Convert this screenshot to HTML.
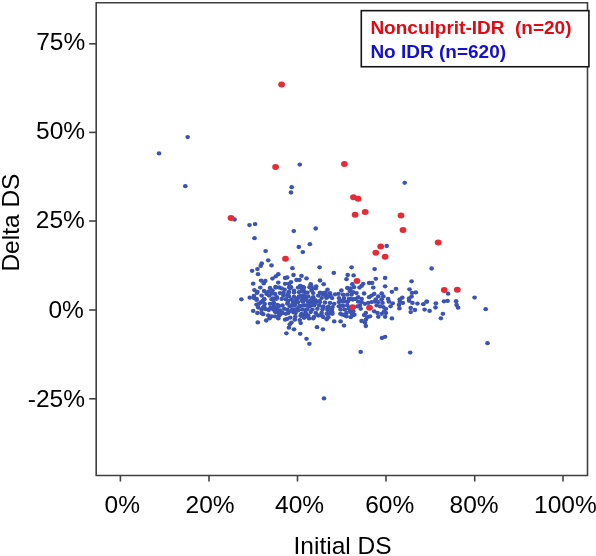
<!DOCTYPE html>
<html><head><meta charset="utf-8"><style>
html,body{margin:0;padding:0;background:#fff;overflow:hidden;}
svg{display:block;will-change:transform;}
.t{font-family:"Liberation Sans",sans-serif;font-size:24.5px;fill:#000;}
.lg{font-family:"Liberation Sans",sans-serif;font-size:19px;font-weight:bold;}
</style></head><body>
<svg width="596" height="556" viewBox="0 0 596 556">
<path d="M96.2 2.75H587.5V475.5H96.2Z" fill="none" stroke="#404040" stroke-width="1.6"/><line x1="89.2" y1="43.8" x2="96.2" y2="43.8" stroke="#404040" stroke-width="1.6"/><text x="85.2" y="49.8" text-anchor="end" class="t">75%</text><line x1="89.2" y1="132.4" x2="96.2" y2="132.4" stroke="#404040" stroke-width="1.6"/><text x="85.1" y="139.0" text-anchor="end" class="t">50%</text><line x1="89.2" y1="221.0" x2="96.2" y2="221.0" stroke="#404040" stroke-width="1.6"/><text x="84.8" y="228.3" text-anchor="end" class="t">25%</text><line x1="89.2" y1="310.0" x2="96.2" y2="310.0" stroke="#404040" stroke-width="1.6"/><text x="83.8" y="317.8" text-anchor="end" class="t">0%</text><line x1="89.2" y1="398.8" x2="96.2" y2="398.8" stroke="#404040" stroke-width="1.6"/><text x="85.0" y="407.0" text-anchor="end" class="t">-25%</text><line x1="120.4" y1="475.5" x2="120.4" y2="481.5" stroke="#404040" stroke-width="1.6"/><text x="104.6" y="512.8" class="t">0%</text><line x1="209.0" y1="475.5" x2="209.0" y2="481.5" stroke="#404040" stroke-width="1.6"/><text x="185.5" y="512.8" class="t">20%</text><line x1="297.5" y1="475.5" x2="297.5" y2="481.5" stroke="#404040" stroke-width="1.6"/><text x="275.1" y="512.8" class="t">40%</text><line x1="386.0" y1="475.5" x2="386.0" y2="481.5" stroke="#404040" stroke-width="1.6"/><text x="365.2" y="512.8" class="t">60%</text><line x1="474.7" y1="475.5" x2="474.7" y2="481.5" stroke="#404040" stroke-width="1.6"/><text x="449.5" y="512.8" class="t">80%</text><line x1="563.0" y1="475.5" x2="563.0" y2="481.5" stroke="#404040" stroke-width="1.6"/><text x="534.1" y="512.8" class="t">100%</text><text x="293.5" y="553.5" class="t">Initial DS</text><text transform="translate(18.5,271.6) rotate(-90)" class="t">Delta DS</text><g fill="#3b53b2"><ellipse cx="187.7" cy="137.1" rx="2.35" ry="2.15"/><ellipse cx="159.0" cy="153.4" rx="2.35" ry="2.15"/><ellipse cx="185.3" cy="186.2" rx="2.35" ry="2.15"/><ellipse cx="299.8" cy="164.6" rx="2.35" ry="2.15"/><ellipse cx="291.7" cy="187.2" rx="2.35" ry="2.15"/><ellipse cx="291.0" cy="192.5" rx="2.35" ry="2.15"/><ellipse cx="404.7" cy="182.8" rx="2.35" ry="2.15"/><ellipse cx="234.6" cy="219.5" rx="2.35" ry="2.15"/><ellipse cx="249.5" cy="225.1" rx="2.35" ry="2.15"/><ellipse cx="255.1" cy="224.1" rx="2.35" ry="2.15"/><ellipse cx="293.8" cy="231.1" rx="2.35" ry="2.15"/><ellipse cx="315.7" cy="228.5" rx="2.35" ry="2.15"/><ellipse cx="254.5" cy="238.2" rx="2.35" ry="2.15"/><ellipse cx="309.9" cy="244.2" rx="2.35" ry="2.15"/><ellipse cx="298.8" cy="247.0" rx="2.35" ry="2.15"/><ellipse cx="302.8" cy="252.1" rx="2.35" ry="2.15"/><ellipse cx="265.6" cy="251.1" rx="2.35" ry="2.15"/><ellipse cx="268.2" cy="260.3" rx="2.35" ry="2.15"/><ellipse cx="261.7" cy="263.4" rx="2.35" ry="2.15"/><ellipse cx="271.5" cy="265.4" rx="2.35" ry="2.15"/><ellipse cx="260.7" cy="265.9" rx="2.35" ry="2.15"/><ellipse cx="257.4" cy="269.1" rx="2.35" ry="2.15"/><ellipse cx="252.1" cy="270.8" rx="2.35" ry="2.15"/><ellipse cx="292.4" cy="268.2" rx="2.35" ry="2.15"/><ellipse cx="319.6" cy="267.3" rx="2.35" ry="2.15"/><ellipse cx="351.6" cy="267.3" rx="2.35" ry="2.15"/><ellipse cx="386.7" cy="246.0" rx="2.35" ry="2.15"/><ellipse cx="374.6" cy="269.1" rx="2.35" ry="2.15"/><ellipse cx="431.6" cy="268.5" rx="2.35" ry="2.15"/><ellipse cx="442.9" cy="313.8" rx="2.35" ry="2.15"/><ellipse cx="440.9" cy="318.3" rx="2.35" ry="2.15"/><ellipse cx="487.5" cy="343.2" rx="2.35" ry="2.15"/><ellipse cx="286.4" cy="333.3" rx="2.35" ry="2.15"/><ellipse cx="300.2" cy="333.8" rx="2.35" ry="2.15"/><ellipse cx="306.5" cy="338.8" rx="2.35" ry="2.15"/><ellipse cx="309.4" cy="343.8" rx="2.35" ry="2.15"/><ellipse cx="382.0" cy="338.0" rx="2.35" ry="2.15"/><ellipse cx="385.1" cy="336.8" rx="2.35" ry="2.15"/><ellipse cx="360.7" cy="351.9" rx="2.35" ry="2.15"/><ellipse cx="410.2" cy="352.6" rx="2.35" ry="2.15"/><ellipse cx="324.0" cy="398.4" rx="2.35" ry="2.15"/><ellipse cx="258.0" cy="274.2" rx="2.35" ry="2.15"/><ellipse cx="278.3" cy="274.2" rx="2.35" ry="2.15"/><ellipse cx="275.8" cy="276.3" rx="2.35" ry="2.15"/><ellipse cx="272.5" cy="278.6" rx="2.35" ry="2.15"/><ellipse cx="285.1" cy="278.0" rx="2.35" ry="2.15"/><ellipse cx="261.1" cy="280.6" rx="2.35" ry="2.15"/><ellipse cx="265.3" cy="280.9" rx="2.35" ry="2.15"/><ellipse cx="263.7" cy="283.4" rx="2.35" ry="2.15"/><ellipse cx="253.2" cy="283.7" rx="2.35" ry="2.15"/><ellipse cx="278.3" cy="282.6" rx="2.35" ry="2.15"/><ellipse cx="285.1" cy="283.8" rx="2.35" ry="2.15"/><ellipse cx="260.3" cy="287.6" rx="2.35" ry="2.15"/><ellipse cx="254.4" cy="290.1" rx="2.35" ry="2.15"/><ellipse cx="257.4" cy="291.8" rx="2.35" ry="2.15"/><ellipse cx="264.1" cy="291.0" rx="2.35" ry="2.15"/><ellipse cx="270.0" cy="288.0" rx="2.35" ry="2.15"/><ellipse cx="275.8" cy="287.6" rx="2.35" ry="2.15"/><ellipse cx="281.7" cy="288.4" rx="2.35" ry="2.15"/><ellipse cx="284.6" cy="289.7" rx="2.35" ry="2.15"/><ellipse cx="272.5" cy="290.5" rx="2.35" ry="2.15"/><ellipse cx="266.6" cy="293.9" rx="2.35" ry="2.15"/><ellipse cx="261.6" cy="295.6" rx="2.35" ry="2.15"/><ellipse cx="269.1" cy="295.6" rx="2.35" ry="2.15"/><ellipse cx="275.0" cy="293.9" rx="2.35" ry="2.15"/><ellipse cx="280.0" cy="293.1" rx="2.35" ry="2.15"/><ellipse cx="283.4" cy="295.6" rx="2.35" ry="2.15"/><ellipse cx="276.7" cy="297.2" rx="2.35" ry="2.15"/><ellipse cx="249.8" cy="297.7" rx="2.35" ry="2.15"/><ellipse cx="254.0" cy="298.1" rx="2.35" ry="2.15"/><ellipse cx="241.4" cy="299.3" rx="2.35" ry="2.15"/><ellipse cx="264.1" cy="298.9" rx="2.35" ry="2.15"/><ellipse cx="271.6" cy="299.3" rx="2.35" ry="2.15"/><ellipse cx="281.7" cy="298.9" rx="2.35" ry="2.15"/><ellipse cx="333.8" cy="272.9" rx="2.35" ry="2.15"/><ellipse cx="293.5" cy="275.0" rx="2.35" ry="2.15"/><ellipse cx="301.5" cy="275.9" rx="2.35" ry="2.15"/><ellipse cx="287.2" cy="277.5" rx="2.35" ry="2.15"/><ellipse cx="306.5" cy="278.4" rx="2.35" ry="2.15"/><ellipse cx="296.5" cy="280.0" rx="2.35" ry="2.15"/><ellipse cx="299.4" cy="280.0" rx="2.35" ry="2.15"/><ellipse cx="320.0" cy="280.5" rx="2.35" ry="2.15"/><ellipse cx="291.0" cy="282.1" rx="2.35" ry="2.15"/><ellipse cx="323.7" cy="284.2" rx="2.35" ry="2.15"/><ellipse cx="288.9" cy="283.8" rx="2.35" ry="2.15"/><ellipse cx="300.2" cy="285.9" rx="2.35" ry="2.15"/><ellipse cx="298.1" cy="287.6" rx="2.35" ry="2.15"/><ellipse cx="302.8" cy="286.8" rx="2.35" ry="2.15"/><ellipse cx="291.0" cy="287.2" rx="2.35" ry="2.15"/><ellipse cx="310.7" cy="284.2" rx="2.35" ry="2.15"/><ellipse cx="309.5" cy="287.2" rx="2.35" ry="2.15"/><ellipse cx="316.2" cy="286.3" rx="2.35" ry="2.15"/><ellipse cx="315.8" cy="288.4" rx="2.35" ry="2.15"/><ellipse cx="327.5" cy="289.7" rx="2.35" ry="2.15"/><ellipse cx="311.6" cy="290.5" rx="2.35" ry="2.15"/><ellipse cx="288.9" cy="291.8" rx="2.35" ry="2.15"/><ellipse cx="294.0" cy="292.6" rx="2.35" ry="2.15"/><ellipse cx="299.0" cy="292.2" rx="2.35" ry="2.15"/><ellipse cx="303.2" cy="291.4" rx="2.35" ry="2.15"/><ellipse cx="307.4" cy="292.6" rx="2.35" ry="2.15"/><ellipse cx="313.2" cy="293.1" rx="2.35" ry="2.15"/><ellipse cx="320.0" cy="292.6" rx="2.35" ry="2.15"/><ellipse cx="325.0" cy="292.6" rx="2.35" ry="2.15"/><ellipse cx="318.3" cy="295.6" rx="2.35" ry="2.15"/><ellipse cx="323.3" cy="294.7" rx="2.35" ry="2.15"/><ellipse cx="330.0" cy="293.1" rx="2.35" ry="2.15"/><ellipse cx="335.1" cy="294.3" rx="2.35" ry="2.15"/><ellipse cx="288.9" cy="296.4" rx="2.35" ry="2.15"/><ellipse cx="294.0" cy="296.8" rx="2.35" ry="2.15"/><ellipse cx="299.0" cy="296.4" rx="2.35" ry="2.15"/><ellipse cx="303.2" cy="295.6" rx="2.35" ry="2.15"/><ellipse cx="308.2" cy="296.4" rx="2.35" ry="2.15"/><ellipse cx="313.2" cy="297.2" rx="2.35" ry="2.15"/><ellipse cx="321.6" cy="298.1" rx="2.35" ry="2.15"/><ellipse cx="326.7" cy="297.2" rx="2.35" ry="2.15"/><ellipse cx="332.1" cy="298.1" rx="2.35" ry="2.15"/><ellipse cx="296.5" cy="299.3" rx="2.35" ry="2.15"/><ellipse cx="291.4" cy="299.3" rx="2.35" ry="2.15"/><ellipse cx="302.3" cy="299.3" rx="2.35" ry="2.15"/><ellipse cx="306.5" cy="299.8" rx="2.35" ry="2.15"/><ellipse cx="311.6" cy="299.3" rx="2.35" ry="2.15"/><ellipse cx="347.7" cy="275.0" rx="2.35" ry="2.15"/><ellipse cx="353.6" cy="275.4" rx="2.35" ry="2.15"/><ellipse cx="346.5" cy="279.2" rx="2.35" ry="2.15"/><ellipse cx="375.8" cy="278.8" rx="2.35" ry="2.15"/><ellipse cx="385.1" cy="278.0" rx="2.35" ry="2.15"/><ellipse cx="363.2" cy="283.8" rx="2.35" ry="2.15"/><ellipse cx="369.1" cy="283.0" rx="2.35" ry="2.15"/><ellipse cx="372.1" cy="283.0" rx="2.35" ry="2.15"/><ellipse cx="352.3" cy="284.2" rx="2.35" ry="2.15"/><ellipse cx="361.6" cy="285.9" rx="2.35" ry="2.15"/><ellipse cx="359.5" cy="287.6" rx="2.35" ry="2.15"/><ellipse cx="373.3" cy="287.6" rx="2.35" ry="2.15"/><ellipse cx="385.1" cy="286.3" rx="2.35" ry="2.15"/><ellipse cx="347.3" cy="288.0" rx="2.35" ry="2.15"/><ellipse cx="350.7" cy="288.4" rx="2.35" ry="2.15"/><ellipse cx="354.0" cy="287.2" rx="2.35" ry="2.15"/><ellipse cx="341.4" cy="290.5" rx="2.35" ry="2.15"/><ellipse cx="349.8" cy="291.0" rx="2.35" ry="2.15"/><ellipse cx="353.2" cy="292.2" rx="2.35" ry="2.15"/><ellipse cx="356.5" cy="293.1" rx="2.35" ry="2.15"/><ellipse cx="364.1" cy="293.5" rx="2.35" ry="2.15"/><ellipse cx="374.2" cy="293.9" rx="2.35" ry="2.15"/><ellipse cx="381.7" cy="293.5" rx="2.35" ry="2.15"/><ellipse cx="338.5" cy="293.9" rx="2.35" ry="2.15"/><ellipse cx="343.1" cy="294.7" rx="2.35" ry="2.15"/><ellipse cx="347.3" cy="294.7" rx="2.35" ry="2.15"/><ellipse cx="351.5" cy="294.7" rx="2.35" ry="2.15"/><ellipse cx="358.2" cy="297.2" rx="2.35" ry="2.15"/><ellipse cx="369.1" cy="297.2" rx="2.35" ry="2.15"/><ellipse cx="371.6" cy="295.6" rx="2.35" ry="2.15"/><ellipse cx="378.3" cy="296.4" rx="2.35" ry="2.15"/><ellipse cx="383.4" cy="296.4" rx="2.35" ry="2.15"/><ellipse cx="338.9" cy="298.1" rx="2.35" ry="2.15"/><ellipse cx="344.0" cy="298.1" rx="2.35" ry="2.15"/><ellipse cx="349.0" cy="298.9" rx="2.35" ry="2.15"/><ellipse cx="355.7" cy="298.9" rx="2.35" ry="2.15"/><ellipse cx="361.6" cy="298.9" rx="2.35" ry="2.15"/><ellipse cx="375.8" cy="299.3" rx="2.35" ry="2.15"/><ellipse cx="381.7" cy="299.3" rx="2.35" ry="2.15"/><ellipse cx="411.6" cy="281.3" rx="2.35" ry="2.15"/><ellipse cx="396.0" cy="288.9" rx="2.35" ry="2.15"/><ellipse cx="391.9" cy="291.8" rx="2.35" ry="2.15"/><ellipse cx="409.5" cy="289.3" rx="2.35" ry="2.15"/><ellipse cx="412.0" cy="292.9" rx="2.35" ry="2.15"/><ellipse cx="415.8" cy="292.4" rx="2.35" ry="2.15"/><ellipse cx="411.6" cy="296.6" rx="2.35" ry="2.15"/><ellipse cx="388.1" cy="298.9" rx="2.35" ry="2.15"/><ellipse cx="402.3" cy="297.7" rx="2.35" ry="2.15"/><ellipse cx="399.8" cy="299.3" rx="2.35" ry="2.15"/><ellipse cx="409.1" cy="298.5" rx="2.35" ry="2.15"/><ellipse cx="426.7" cy="301.6" rx="2.35" ry="2.15"/><ellipse cx="448.1" cy="293.7" rx="2.35" ry="2.15"/><ellipse cx="474.6" cy="297.6" rx="2.35" ry="2.15"/><ellipse cx="444.0" cy="301.3" rx="2.35" ry="2.15"/><ellipse cx="447.6" cy="300.9" rx="2.35" ry="2.15"/><ellipse cx="456.1" cy="301.2" rx="2.35" ry="2.15"/><ellipse cx="456.6" cy="305.0" rx="2.35" ry="2.15"/><ellipse cx="458.1" cy="307.7" rx="2.35" ry="2.15"/><ellipse cx="485.7" cy="309.2" rx="2.35" ry="2.15"/><ellipse cx="256.5" cy="304.6" rx="2.35" ry="2.15"/><ellipse cx="260.7" cy="302.5" rx="2.35" ry="2.15"/><ellipse cx="258.2" cy="307.5" rx="2.35" ry="2.15"/><ellipse cx="264.1" cy="306.7" rx="2.35" ry="2.15"/><ellipse cx="265.8" cy="309.2" rx="2.35" ry="2.15"/><ellipse cx="261.6" cy="309.6" rx="2.35" ry="2.15"/><ellipse cx="253.2" cy="310.9" rx="2.35" ry="2.15"/><ellipse cx="257.4" cy="313.0" rx="2.35" ry="2.15"/><ellipse cx="261.6" cy="313.0" rx="2.35" ry="2.15"/><ellipse cx="263.2" cy="314.2" rx="2.35" ry="2.15"/><ellipse cx="268.3" cy="315.5" rx="2.35" ry="2.15"/><ellipse cx="270.0" cy="303.8" rx="2.35" ry="2.15"/><ellipse cx="273.3" cy="303.3" rx="2.35" ry="2.15"/><ellipse cx="277.5" cy="305.0" rx="2.35" ry="2.15"/><ellipse cx="282.5" cy="305.4" rx="2.35" ry="2.15"/><ellipse cx="273.3" cy="309.6" rx="2.35" ry="2.15"/><ellipse cx="276.7" cy="308.8" rx="2.35" ry="2.15"/><ellipse cx="280.0" cy="310.5" rx="2.35" ry="2.15"/><ellipse cx="284.2" cy="308.8" rx="2.35" ry="2.15"/><ellipse cx="275.8" cy="312.1" rx="2.35" ry="2.15"/><ellipse cx="282.5" cy="313.0" rx="2.35" ry="2.15"/><ellipse cx="285.9" cy="313.8" rx="2.35" ry="2.15"/><ellipse cx="271.6" cy="316.3" rx="2.35" ry="2.15"/><ellipse cx="275.0" cy="316.3" rx="2.35" ry="2.15"/><ellipse cx="279.2" cy="315.5" rx="2.35" ry="2.15"/><ellipse cx="269.5" cy="318.4" rx="2.35" ry="2.15"/><ellipse cx="278.3" cy="318.4" rx="2.35" ry="2.15"/><ellipse cx="266.2" cy="320.5" rx="2.35" ry="2.15"/><ellipse cx="285.1" cy="319.7" rx="2.35" ry="2.15"/><ellipse cx="257.8" cy="322.4" rx="2.35" ry="2.15"/><ellipse cx="288.1" cy="302.1" rx="2.35" ry="2.15"/><ellipse cx="293.1" cy="301.7" rx="2.35" ry="2.15"/><ellipse cx="298.1" cy="302.1" rx="2.35" ry="2.15"/><ellipse cx="303.2" cy="301.7" rx="2.35" ry="2.15"/><ellipse cx="308.2" cy="302.1" rx="2.35" ry="2.15"/><ellipse cx="313.2" cy="302.5" rx="2.35" ry="2.15"/><ellipse cx="320.0" cy="302.1" rx="2.35" ry="2.15"/><ellipse cx="325.0" cy="302.5" rx="2.35" ry="2.15"/><ellipse cx="330.0" cy="302.9" rx="2.35" ry="2.15"/><ellipse cx="334.2" cy="303.8" rx="2.35" ry="2.15"/><ellipse cx="289.8" cy="306.3" rx="2.35" ry="2.15"/><ellipse cx="294.8" cy="305.4" rx="2.35" ry="2.15"/><ellipse cx="299.8" cy="305.9" rx="2.35" ry="2.15"/><ellipse cx="304.9" cy="305.4" rx="2.35" ry="2.15"/><ellipse cx="309.9" cy="306.3" rx="2.35" ry="2.15"/><ellipse cx="314.1" cy="305.4" rx="2.35" ry="2.15"/><ellipse cx="319.1" cy="305.4" rx="2.35" ry="2.15"/><ellipse cx="323.3" cy="306.3" rx="2.35" ry="2.15"/><ellipse cx="328.3" cy="306.7" rx="2.35" ry="2.15"/><ellipse cx="332.5" cy="307.1" rx="2.35" ry="2.15"/><ellipse cx="287.2" cy="309.6" rx="2.35" ry="2.15"/><ellipse cx="292.3" cy="309.6" rx="2.35" ry="2.15"/><ellipse cx="297.3" cy="308.8" rx="2.35" ry="2.15"/><ellipse cx="302.3" cy="309.6" rx="2.35" ry="2.15"/><ellipse cx="307.4" cy="309.2" rx="2.35" ry="2.15"/><ellipse cx="312.4" cy="309.6" rx="2.35" ry="2.15"/><ellipse cx="317.4" cy="308.8" rx="2.35" ry="2.15"/><ellipse cx="322.5" cy="309.6" rx="2.35" ry="2.15"/><ellipse cx="327.5" cy="310.0" rx="2.35" ry="2.15"/><ellipse cx="331.7" cy="309.2" rx="2.35" ry="2.15"/><ellipse cx="288.1" cy="313.0" rx="2.35" ry="2.15"/><ellipse cx="295.6" cy="313.0" rx="2.35" ry="2.15"/><ellipse cx="301.5" cy="313.8" rx="2.35" ry="2.15"/><ellipse cx="305.7" cy="313.0" rx="2.35" ry="2.15"/><ellipse cx="310.7" cy="312.1" rx="2.35" ry="2.15"/><ellipse cx="315.8" cy="313.0" rx="2.35" ry="2.15"/><ellipse cx="321.6" cy="313.0" rx="2.35" ry="2.15"/><ellipse cx="326.7" cy="313.8" rx="2.35" ry="2.15"/><ellipse cx="330.9" cy="313.0" rx="2.35" ry="2.15"/><ellipse cx="303.2" cy="316.3" rx="2.35" ry="2.15"/><ellipse cx="308.2" cy="315.5" rx="2.35" ry="2.15"/><ellipse cx="314.1" cy="316.8" rx="2.35" ry="2.15"/><ellipse cx="318.3" cy="315.5" rx="2.35" ry="2.15"/><ellipse cx="323.3" cy="317.2" rx="2.35" ry="2.15"/><ellipse cx="328.3" cy="317.2" rx="2.35" ry="2.15"/><ellipse cx="287.2" cy="318.9" rx="2.35" ry="2.15"/><ellipse cx="294.8" cy="319.7" rx="2.35" ry="2.15"/><ellipse cx="299.8" cy="320.1" rx="2.35" ry="2.15"/><ellipse cx="309.1" cy="318.4" rx="2.35" ry="2.15"/><ellipse cx="313.2" cy="318.4" rx="2.35" ry="2.15"/><ellipse cx="326.7" cy="319.3" rx="2.35" ry="2.15"/><ellipse cx="334.2" cy="321.4" rx="2.35" ry="2.15"/><ellipse cx="291.4" cy="322.6" rx="2.35" ry="2.15"/><ellipse cx="289.8" cy="324.3" rx="2.35" ry="2.15"/><ellipse cx="300.7" cy="323.1" rx="2.35" ry="2.15"/><ellipse cx="288.9" cy="327.7" rx="2.35" ry="2.15"/><ellipse cx="294.0" cy="329.3" rx="2.35" ry="2.15"/><ellipse cx="317.0" cy="327.2" rx="2.35" ry="2.15"/><ellipse cx="322.9" cy="329.3" rx="2.35" ry="2.15"/><ellipse cx="338.9" cy="302.1" rx="2.35" ry="2.15"/><ellipse cx="343.1" cy="301.7" rx="2.35" ry="2.15"/><ellipse cx="347.3" cy="302.1" rx="2.35" ry="2.15"/><ellipse cx="338.9" cy="306.3" rx="2.35" ry="2.15"/><ellipse cx="343.1" cy="305.9" rx="2.35" ry="2.15"/><ellipse cx="347.3" cy="305.4" rx="2.35" ry="2.15"/><ellipse cx="340.6" cy="309.6" rx="2.35" ry="2.15"/><ellipse cx="344.8" cy="309.6" rx="2.35" ry="2.15"/><ellipse cx="349.0" cy="308.8" rx="2.35" ry="2.15"/><ellipse cx="342.3" cy="314.7" rx="2.35" ry="2.15"/><ellipse cx="346.5" cy="313.0" rx="2.35" ry="2.15"/><ellipse cx="350.7" cy="312.1" rx="2.35" ry="2.15"/><ellipse cx="346.5" cy="316.3" rx="2.35" ry="2.15"/><ellipse cx="350.7" cy="317.2" rx="2.35" ry="2.15"/><ellipse cx="354.4" cy="314.7" rx="2.35" ry="2.15"/><ellipse cx="353.2" cy="311.3" rx="2.35" ry="2.15"/><ellipse cx="358.2" cy="301.7" rx="2.35" ry="2.15"/><ellipse cx="361.6" cy="302.1" rx="2.35" ry="2.15"/><ellipse cx="357.4" cy="306.3" rx="2.35" ry="2.15"/><ellipse cx="360.7" cy="308.8" rx="2.35" ry="2.15"/><ellipse cx="359.9" cy="305.4" rx="2.35" ry="2.15"/><ellipse cx="364.9" cy="303.8" rx="2.35" ry="2.15"/><ellipse cx="368.3" cy="302.9" rx="2.35" ry="2.15"/><ellipse cx="371.6" cy="302.1" rx="2.35" ry="2.15"/><ellipse cx="375.0" cy="301.7" rx="2.35" ry="2.15"/><ellipse cx="378.3" cy="302.1" rx="2.35" ry="2.15"/><ellipse cx="382.5" cy="302.9" rx="2.35" ry="2.15"/><ellipse cx="376.7" cy="305.4" rx="2.35" ry="2.15"/><ellipse cx="380.0" cy="306.3" rx="2.35" ry="2.15"/><ellipse cx="383.4" cy="307.1" rx="2.35" ry="2.15"/><ellipse cx="385.9" cy="308.8" rx="2.35" ry="2.15"/><ellipse cx="384.2" cy="311.3" rx="2.35" ry="2.15"/><ellipse cx="385.9" cy="313.0" rx="2.35" ry="2.15"/><ellipse cx="381.7" cy="313.8" rx="2.35" ry="2.15"/><ellipse cx="374.2" cy="311.3" rx="2.35" ry="2.15"/><ellipse cx="377.5" cy="313.0" rx="2.35" ry="2.15"/><ellipse cx="365.8" cy="313.0" rx="2.35" ry="2.15"/><ellipse cx="364.1" cy="315.1" rx="2.35" ry="2.15"/><ellipse cx="367.4" cy="317.2" rx="2.35" ry="2.15"/><ellipse cx="370.0" cy="316.3" rx="2.35" ry="2.15"/><ellipse cx="378.3" cy="316.8" rx="2.35" ry="2.15"/><ellipse cx="385.1" cy="316.8" rx="2.35" ry="2.15"/><ellipse cx="361.6" cy="321.0" rx="2.35" ry="2.15"/><ellipse cx="365.8" cy="319.7" rx="2.35" ry="2.15"/><ellipse cx="364.9" cy="322.6" rx="2.35" ry="2.15"/><ellipse cx="340.6" cy="321.4" rx="2.35" ry="2.15"/><ellipse cx="344.0" cy="325.6" rx="2.35" ry="2.15"/><ellipse cx="365.8" cy="326.0" rx="2.35" ry="2.15"/><ellipse cx="388.9" cy="301.7" rx="2.35" ry="2.15"/><ellipse cx="392.7" cy="303.3" rx="2.35" ry="2.15"/><ellipse cx="390.6" cy="306.3" rx="2.35" ry="2.15"/><ellipse cx="399.8" cy="301.7" rx="2.35" ry="2.15"/><ellipse cx="402.8" cy="302.9" rx="2.35" ry="2.15"/><ellipse cx="399.0" cy="305.0" rx="2.35" ry="2.15"/><ellipse cx="399.4" cy="308.4" rx="2.35" ry="2.15"/><ellipse cx="409.1" cy="300.8" rx="2.35" ry="2.15"/><ellipse cx="412.4" cy="302.9" rx="2.35" ry="2.15"/><ellipse cx="417.4" cy="303.6" rx="2.35" ry="2.15"/><ellipse cx="423.3" cy="304.2" rx="2.35" ry="2.15"/><ellipse cx="426.7" cy="301.7" rx="2.35" ry="2.15"/><ellipse cx="410.7" cy="308.0" rx="2.35" ry="2.15"/><ellipse cx="414.9" cy="310.0" rx="2.35" ry="2.15"/><ellipse cx="410.7" cy="312.1" rx="2.35" ry="2.15"/><ellipse cx="424.6" cy="309.6" rx="2.35" ry="2.15"/><ellipse cx="429.6" cy="310.9" rx="2.35" ry="2.15"/><ellipse cx="435.5" cy="307.5" rx="2.35" ry="2.15"/><ellipse cx="435.9" cy="303.3" rx="2.35" ry="2.15"/><ellipse cx="391.9" cy="318.4" rx="2.35" ry="2.15"/><ellipse cx="271.8" cy="293.7" rx="2.35" ry="2.15"/><ellipse cx="264.3" cy="299.6" rx="2.35" ry="2.15"/><ellipse cx="268.7" cy="310.0" rx="2.35" ry="2.15"/><ellipse cx="273.8" cy="299.1" rx="2.35" ry="2.15"/><ellipse cx="262.9" cy="307.9" rx="2.35" ry="2.15"/><ellipse cx="275.6" cy="286.8" rx="2.35" ry="2.15"/><ellipse cx="276.7" cy="297.5" rx="2.35" ry="2.15"/><ellipse cx="256.5" cy="298.8" rx="2.35" ry="2.15"/><ellipse cx="262.7" cy="301.0" rx="2.35" ry="2.15"/><ellipse cx="257.0" cy="292.9" rx="2.35" ry="2.15"/><ellipse cx="256.6" cy="299.9" rx="2.35" ry="2.15"/><ellipse cx="273.9" cy="302.9" rx="2.35" ry="2.15"/><ellipse cx="268.4" cy="291.6" rx="2.35" ry="2.15"/><ellipse cx="278.2" cy="312.1" rx="2.35" ry="2.15"/><ellipse cx="253.9" cy="296.0" rx="2.35" ry="2.15"/><ellipse cx="270.6" cy="307.6" rx="2.35" ry="2.15"/><ellipse cx="276.6" cy="298.8" rx="2.35" ry="2.15"/><ellipse cx="273.7" cy="306.3" rx="2.35" ry="2.15"/><ellipse cx="259.0" cy="303.8" rx="2.35" ry="2.15"/><ellipse cx="275.1" cy="311.7" rx="2.35" ry="2.15"/><ellipse cx="264.6" cy="303.9" rx="2.35" ry="2.15"/><ellipse cx="272.7" cy="298.5" rx="2.35" ry="2.15"/><ellipse cx="287.4" cy="303.7" rx="2.35" ry="2.15"/><ellipse cx="292.5" cy="305.7" rx="2.35" ry="2.15"/><ellipse cx="302.2" cy="287.7" rx="2.35" ry="2.15"/><ellipse cx="278.9" cy="313.6" rx="2.35" ry="2.15"/><ellipse cx="288.3" cy="293.4" rx="2.35" ry="2.15"/><ellipse cx="316.2" cy="301.3" rx="2.35" ry="2.15"/><ellipse cx="310.2" cy="301.5" rx="2.35" ry="2.15"/><ellipse cx="302.7" cy="290.5" rx="2.35" ry="2.15"/><ellipse cx="302.5" cy="314.6" rx="2.35" ry="2.15"/><ellipse cx="298.3" cy="310.3" rx="2.35" ry="2.15"/><ellipse cx="303.9" cy="287.6" rx="2.35" ry="2.15"/><ellipse cx="307.2" cy="305.3" rx="2.35" ry="2.15"/><ellipse cx="289.8" cy="286.5" rx="2.35" ry="2.15"/><ellipse cx="311.3" cy="301.3" rx="2.35" ry="2.15"/><ellipse cx="305.7" cy="314.9" rx="2.35" ry="2.15"/><ellipse cx="305.5" cy="316.4" rx="2.35" ry="2.15"/><ellipse cx="293.4" cy="312.3" rx="2.35" ry="2.15"/><ellipse cx="295.3" cy="316.8" rx="2.35" ry="2.15"/><ellipse cx="311.8" cy="288.8" rx="2.35" ry="2.15"/><ellipse cx="283.6" cy="292.8" rx="2.35" ry="2.15"/><ellipse cx="315.1" cy="300.1" rx="2.35" ry="2.15"/><ellipse cx="302.2" cy="295.6" rx="2.35" ry="2.15"/><ellipse cx="297.7" cy="298.4" rx="2.35" ry="2.15"/><ellipse cx="291.7" cy="305.1" rx="2.35" ry="2.15"/><ellipse cx="300.6" cy="315.8" rx="2.35" ry="2.15"/><ellipse cx="304.3" cy="316.6" rx="2.35" ry="2.15"/><ellipse cx="303.9" cy="291.0" rx="2.35" ry="2.15"/><ellipse cx="312.8" cy="304.6" rx="2.35" ry="2.15"/><ellipse cx="305.5" cy="292.6" rx="2.35" ry="2.15"/><ellipse cx="310.0" cy="304.7" rx="2.35" ry="2.15"/><ellipse cx="289.2" cy="287.6" rx="2.35" ry="2.15"/><ellipse cx="281.8" cy="312.3" rx="2.35" ry="2.15"/><ellipse cx="294.0" cy="290.6" rx="2.35" ry="2.15"/><ellipse cx="289.6" cy="311.3" rx="2.35" ry="2.15"/><ellipse cx="311.6" cy="287.0" rx="2.35" ry="2.15"/><ellipse cx="301.8" cy="287.0" rx="2.35" ry="2.15"/><ellipse cx="305.7" cy="296.6" rx="2.35" ry="2.15"/><ellipse cx="290.2" cy="288.1" rx="2.35" ry="2.15"/><ellipse cx="285.9" cy="299.2" rx="2.35" ry="2.15"/><ellipse cx="301.6" cy="290.7" rx="2.35" ry="2.15"/><ellipse cx="280.0" cy="314.6" rx="2.35" ry="2.15"/><ellipse cx="290.3" cy="317.6" rx="2.35" ry="2.15"/><ellipse cx="312.5" cy="298.2" rx="2.35" ry="2.15"/><ellipse cx="295.9" cy="302.9" rx="2.35" ry="2.15"/><ellipse cx="302.9" cy="305.5" rx="2.35" ry="2.15"/><ellipse cx="299.7" cy="306.3" rx="2.35" ry="2.15"/><ellipse cx="314.1" cy="302.5" rx="2.35" ry="2.15"/><ellipse cx="294.8" cy="309.6" rx="2.35" ry="2.15"/><ellipse cx="287.4" cy="295.6" rx="2.35" ry="2.15"/><ellipse cx="315.6" cy="303.0" rx="2.35" ry="2.15"/><ellipse cx="294.2" cy="304.9" rx="2.35" ry="2.15"/><ellipse cx="279.2" cy="306.1" rx="2.35" ry="2.15"/><ellipse cx="302.4" cy="287.5" rx="2.35" ry="2.15"/><ellipse cx="302.2" cy="301.1" rx="2.35" ry="2.15"/><ellipse cx="304.2" cy="297.3" rx="2.35" ry="2.15"/><ellipse cx="305.3" cy="310.2" rx="2.35" ry="2.15"/><ellipse cx="279.2" cy="287.5" rx="2.35" ry="2.15"/><ellipse cx="304.1" cy="317.8" rx="2.35" ry="2.15"/><ellipse cx="287.9" cy="300.8" rx="2.35" ry="2.15"/><ellipse cx="300.9" cy="296.2" rx="2.35" ry="2.15"/><ellipse cx="321.9" cy="293.2" rx="2.35" ry="2.15"/><ellipse cx="324.3" cy="294.6" rx="2.35" ry="2.15"/><ellipse cx="319.4" cy="301.2" rx="2.35" ry="2.15"/><ellipse cx="332.2" cy="312.0" rx="2.35" ry="2.15"/><ellipse cx="329.9" cy="296.4" rx="2.35" ry="2.15"/><ellipse cx="326.5" cy="297.9" rx="2.35" ry="2.15"/><ellipse cx="321.0" cy="293.3" rx="2.35" ry="2.15"/><ellipse cx="321.6" cy="315.4" rx="2.35" ry="2.15"/><ellipse cx="330.8" cy="312.2" rx="2.35" ry="2.15"/><ellipse cx="330.4" cy="295.6" rx="2.35" ry="2.15"/><ellipse cx="323.0" cy="307.3" rx="2.35" ry="2.15"/><ellipse cx="329.4" cy="313.5" rx="2.35" ry="2.15"/><ellipse cx="327.5" cy="308.5" rx="2.35" ry="2.15"/><ellipse cx="326.0" cy="295.2" rx="2.35" ry="2.15"/><ellipse cx="325.5" cy="292.8" rx="2.35" ry="2.15"/><ellipse cx="332.4" cy="313.8" rx="2.35" ry="2.15"/><ellipse cx="350.4" cy="311.2" rx="2.35" ry="2.15"/><ellipse cx="353.1" cy="315.2" rx="2.35" ry="2.15"/><ellipse cx="352.2" cy="314.8" rx="2.35" ry="2.15"/><ellipse cx="340.9" cy="305.7" rx="2.35" ry="2.15"/><ellipse cx="347.9" cy="301.3" rx="2.35" ry="2.15"/><ellipse cx="349.1" cy="307.9" rx="2.35" ry="2.15"/><ellipse cx="340.6" cy="300.7" rx="2.35" ry="2.15"/><ellipse cx="344.9" cy="314.7" rx="2.35" ry="2.15"/><ellipse cx="352.7" cy="299.6" rx="2.35" ry="2.15"/><ellipse cx="353.2" cy="299.2" rx="2.35" ry="2.15"/><ellipse cx="350.3" cy="298.9" rx="2.35" ry="2.15"/><ellipse cx="340.4" cy="313.8" rx="2.35" ry="2.15"/><ellipse cx="343.8" cy="300.7" rx="2.35" ry="2.15"/><ellipse cx="345.0" cy="315.6" rx="2.35" ry="2.15"/></g><g fill="#e62a36"><ellipse cx="281.6" cy="84.6" rx="3.4" ry="3.0"/><ellipse cx="275.6" cy="167.0" rx="3.4" ry="3.0"/><ellipse cx="344.4" cy="164.0" rx="3.4" ry="3.0"/><ellipse cx="353.5" cy="197.2" rx="3.4" ry="3.0"/><ellipse cx="358.1" cy="198.7" rx="3.4" ry="3.0"/><ellipse cx="355.1" cy="214.8" rx="3.4" ry="3.0"/><ellipse cx="365.2" cy="211.9" rx="3.4" ry="3.0"/><ellipse cx="401.0" cy="215.6" rx="3.4" ry="3.0"/><ellipse cx="403.0" cy="230.1" rx="3.4" ry="3.0"/><ellipse cx="438.2" cy="242.5" rx="3.4" ry="3.0"/><ellipse cx="380.7" cy="246.6" rx="3.4" ry="3.0"/><ellipse cx="375.8" cy="252.7" rx="3.4" ry="3.0"/><ellipse cx="385.1" cy="256.8" rx="3.4" ry="3.0"/><ellipse cx="231.0" cy="218.1" rx="3.4" ry="3.0"/><ellipse cx="285.5" cy="258.8" rx="3.4" ry="3.0"/><ellipse cx="357.0" cy="281.1" rx="3.4" ry="3.0"/><ellipse cx="444.3" cy="290.0" rx="3.4" ry="3.0"/><ellipse cx="457.3" cy="289.7" rx="3.4" ry="3.0"/><ellipse cx="352.6" cy="307.3" rx="3.4" ry="3.0"/><ellipse cx="369.5" cy="307.7" rx="3.4" ry="3.0"/></g><rect x="361.3" y="10.65" width="227.6" height="56.1" fill="#fff" stroke="#151515" stroke-width="1.6"/><text x="370.4" y="33.8" class="lg" fill="#e00a14" xml:space="preserve">Nonculprit-IDR  (n=20)</text><text x="370.4" y="57.5" class="lg" fill="#1410d2">No IDR (n=620)</text>
</svg></body></html>
